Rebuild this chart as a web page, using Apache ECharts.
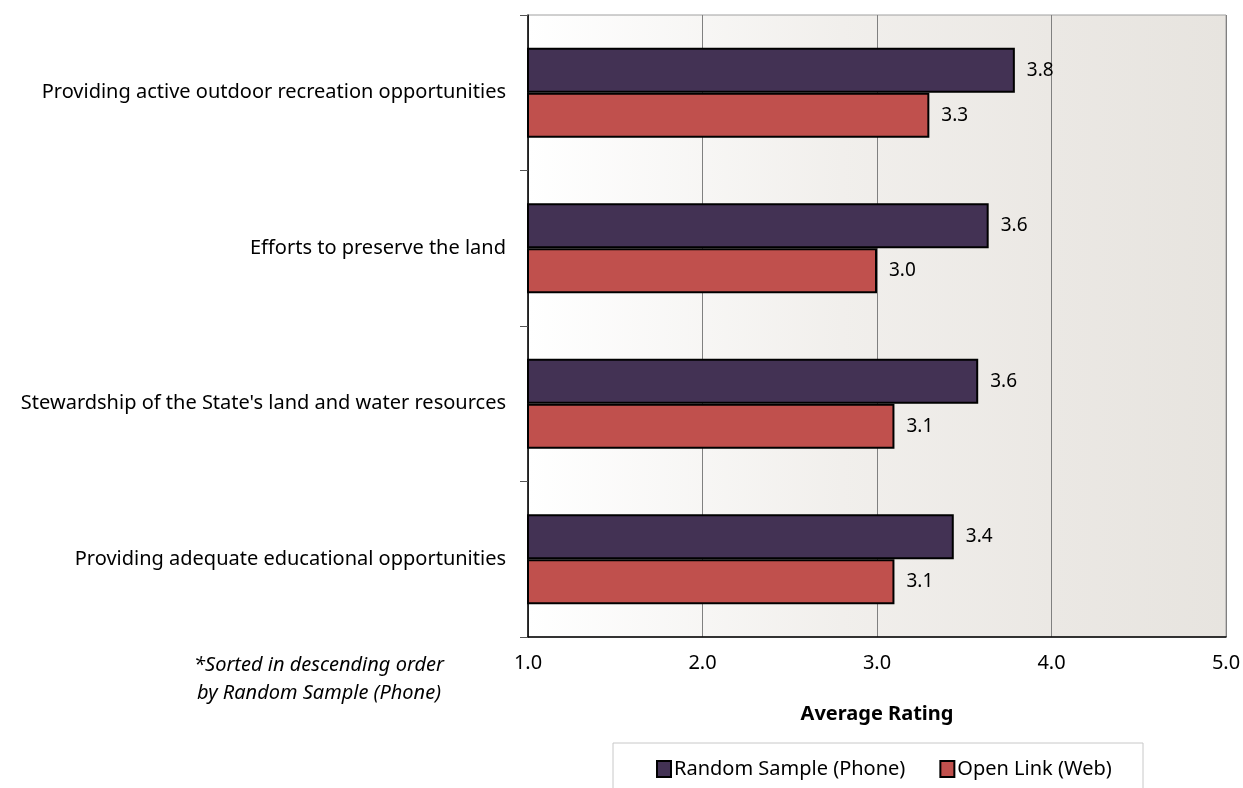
<!DOCTYPE html>
<html>
<head>
<meta charset="utf-8">
<script src="https://cdn.jsdelivr.net/npm/echarts@6/dist/echarts.min.js"></script>
<style>
  html, body { margin: 0; padding: 0; background: #fff; }
  #chart { width: 1243px; height: 788px; }
</style>
</head>
<body>
<div id="chart"></div>
<script>
var categories = [
    'Providing active outdoor recreation opportunities',
    'Efforts to preserve the land',
    "Stewardship of the State's land and water resources",
    'Providing adequate educational opportunities'
];
var phoneValues = [3.79, 3.64, 3.58, 3.44];
var webValues = [3.30, 3.00, 3.10, 3.10];
var xTicks = [1, 2, 3, 4, 5];

var fontName = 'Noto Sans';

var chart = echarts.init(document.getElementById('chart'));
var option = {
    textStyle: { fontFamily: fontName },
    animation: false,
    grid: {
        left: 528,
        right: 17,
        top: 15,
        bottom: 151,
        outerBoundsMode: 'none',
        containLabel: false,
        show: true,
        borderColor: '#a0a0a0',
        borderWidth: 1,
        backgroundColor: new echarts.graphic.LinearGradient(0, 0, 1, 0, [
            {offset: 0, color: '#ffffff'},
            {offset: 0.45, color: '#f1efec'},
            {offset: 0.75, color: '#ebe8e4'},
            {offset: 1, color: '#e7e4df'}
        ])
    },
    legend: {
        data: ['Random Sample (Phone)', 'Open Link (Web)'],
        left: 651,
        top: 754,
        itemWidth: 14,
        itemHeight: 16,
        itemGap: 34,
        textStyle: { fontSize: 20, color: '#000', fontFamily: fontName, padding: [0, 0, 0, -2] },
        icon: 'rect'
    },
    xAxis: {
        type: 'value',
        min: xTicks[0],
        max: xTicks[xTicks.length - 1],
        interval: 1,
        name: 'Average Rating',
        nameLocation: 'middle',
        nameGap: 67,
        nameTextStyle: { fontSize: 20, fontWeight: 'bold', color: '#000' },
        axisLine: { show: true, lineStyle: { color: '#000', width: 1.5 } },
        axisTick: { show: false },
        axisLabel: {
            fontSize: 20,
            color: '#000',
            margin: 16,
            formatter: function (v) { return v.toFixed(1); }
        },
        splitLine: { show: true, lineStyle: { color: '#808080', width: 1 } }
    },
    yAxis: {
        type: 'category',
        data: categories,
        inverse: true,
        axisLine: { show: true, lineStyle: { color: '#000', width: 1.5 } },
        axisTick: { show: true, length: 8, lineStyle: { color: '#555' } },
        axisLabel: { fontSize: 20, color: '#000', margin: 22 }
    },
    series: [
        {
            name: 'Random Sample (Phone)',
            type: 'bar',
            data: phoneValues,
            barWidth: 45,
            barGap: '0%',
            itemStyle: { color: '#433254', borderColor: '#000', borderWidth: 2 },
            label: {
                show: true,
                position: 'right',
                distance: 12,
                fontSize: 19,
                color: '#000',
                formatter: function (p) { return p.value.toFixed(1); }
            }
        },
        {
            name: 'Open Link (Web)',
            type: 'bar',
            data: webValues,
            barWidth: 45,
            barGap: '0%',
            itemStyle: { color: '#c0504d', borderColor: '#000', borderWidth: 2 },
            label: {
                show: true,
                position: 'right',
                distance: 12,
                fontSize: 19,
                color: '#000',
                formatter: function (p) { return p.value.toFixed(1); }
            }
        }
    ],
    graphic: [
        {
            type: 'rect',
            shape: { x: 613, y: 743, width: 530, height: 60 },
            style: { fill: '#fff', stroke: '#c8c8c8', lineWidth: 1 },
            z: -1
        },
        {
            type: 'text',
            x: 319,
            y: 651,
            style: {
                text: '*Sorted in descending order\nby Random Sample (Phone)',
                font: 'italic 20px "Noto Sans"',
                fill: '#000',
                align: 'center',
                lineHeight: 28
            }
        }
    ]
};
chart.setOption(option);
</script>
</body>
</html>
